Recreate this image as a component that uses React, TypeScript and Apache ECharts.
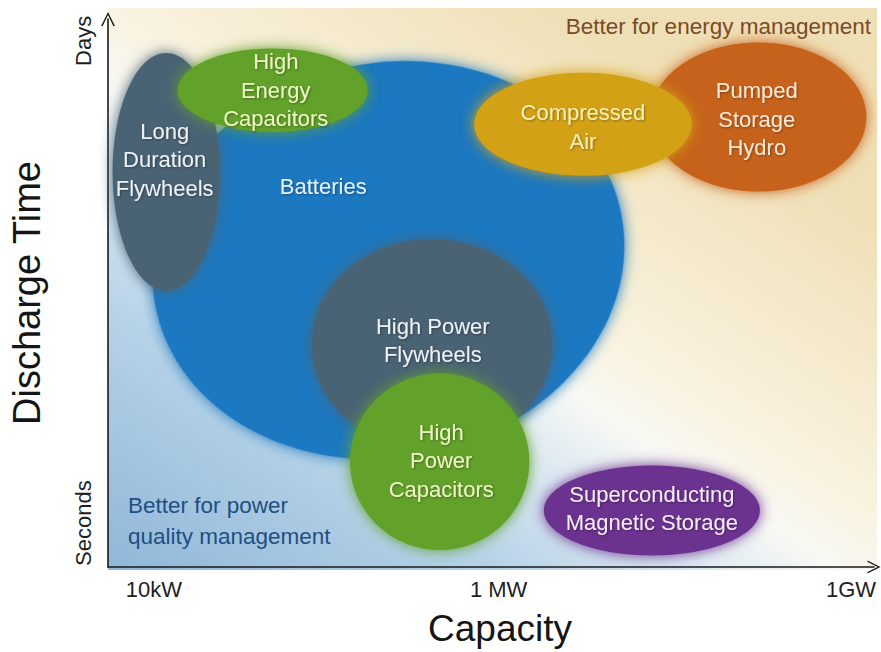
import React, { useEffect, useRef } from 'react';
import * as echarts from 'echarts';

// Technologies, drawn in back-to-front order
const technologies = [
  'Batteries',
  'Long Duration Flywheels',
  'High Energy Capacitors',
  'High Power Flywheels',
  'High Power Capacitors',
  'Pumped Storage Hydro',
  'Compressed Air',
  'Superconducting Magnetic Storage',
];
const labelTexts = [
  'Batteries',
  'Long\nDuration\nFlywheels',
  'High\nEnergy\nCapacitors',
  'High Power\nFlywheels',
  'High\nPower\nCapacitors',
  'Pumped\nStorage\nHydro',
  'Compressed\nAir',
  'Superconducting\nMagnetic Storage',
];
// Capacity index (0..100) and discharge-time index (0..100) of each region
const capacityCenter = [36.6, 7.6, 21.5, 42.3, 43.3, 84.9, 62.0, 71.0];
const dischargeCenter = [56.0, 72.1, 87.0, 40.6, 19.2, 82.1, 80.8, 10.3];
const capacitySpread = [31.0, 7.0, 12.4, 15.7, 11.7, 14.1, 14.2, 14.1];
const dischargeSpread = [36.0, 21.7, 7.6, 19.2, 16.1, 13.6, 9.4, 8.2];
const labelCapacity = [28.1, 7.4, 21.9, 42.4, 43.5, 84.7, 62.0, 71.0];
const labelDischarge = [69.4, 74.3, 87.0, 41.3, 19.4, 81.7, 80.3, 10.7];

const xTickValues = [6, 51, 97];
const xTickLabels = ['10kW', '1 MW', '1GW'];
const yTickValues = [8, 96];
const yTickLabels = ['Seconds', 'Days'];

const fillColors = ['#1b78c0', '#4a6374', '#62a12c', '#4a6374', '#62a12c', '#c6621f', '#d3a112', '#6c3290'];
const textColors = ['#e4f1fa', '#eef2f5', '#eef6c4', '#eef2f5', '#eef6c4', '#fde9d4', '#fbf0b4', '#f4ecf6'];
const tilt = [0.2, 0, 0, 0, 0, 0, 0, 0];

const FONT = 'Liberation Sans, Arial, sans-serif';
const CHEVRON = 'path://M0,10 L5,0 L10,10 L8.8,10 L5,2.2 L1.2,10 Z';

export default function App() {
  const ref = useRef<HTMLDivElement>(null);
  useEffect(() => {
    if (!ref.current) return;
    const chart = echarts.init(ref.current, undefined, { renderer: 'svg' });
    const regionData = technologies.map((name, i) => ({
      name,
      value: [capacityCenter[i], dischargeCenter[i], capacitySpread[i], dischargeSpread[i]],
    }));
    const labelData = technologies.map((name, i) => ({
      name,
      value: [labelCapacity[i], labelDischarge[i]],
    }));
    const xLabelMap: Record<number, string> = {};
    xTickValues.forEach((v, i) => (xLabelMap[v] = xTickLabels[i]));
    const yLabelMap: Record<number, string> = {};
    yTickValues.forEach((v, i) => (yLabelMap[v] = yTickLabels[i]));

    chart.setOption({
      animation: false,
      backgroundColor: '#ffffff',
      grid: { left: 108, right: 7, top: 19, bottom: 82 },
      graphic: [
        {
          type: 'rect',
          z: -1,
          silent: true,
          shape: { x: 108, y: 8, width: 769, height: 562 },
          style: {
            fill: new echarts.graphic.LinearGradient(108, 570, 108 + 0.55 * 720, 570 - 0.83 * 720, [
              { offset: 0, color: '#8fb7d8' },
              { offset: 0.3, color: '#b6d2e7' },
              { offset: 0.45, color: '#dae8f1' },
              { offset: 0.56, color: '#f7f8f4' },
              { offset: 0.66, color: '#f9f2df' },
              { offset: 1, color: '#efdfb6' },
            ], true),
          },
        },
        {
          type: 'text',
          z: 100,
          x: 871,
          y: 26,
          style: {
            text: 'Better for energy management',
            fill: '#7a4b25',
            font: `22.5px ${FONT}`,
            align: 'right',
            verticalAlign: 'middle',
          },
        },
        {
          type: 'text',
          z: 100,
          x: 128,
          y: 521,
          style: {
            text: 'Better for power\nquality management',
            fill: '#1f4f82',
            font: `22.5px ${FONT}`,
            lineHeight: 31,
            align: 'left',
            verticalAlign: 'middle',
          },
        },
      ],
      xAxis: {
        type: 'value',
        min: 0,
        max: 100,
        interval: 1,
        name: 'Capacity',
        nameLocation: 'middle',
        nameGap: 43,
        nameTextStyle: { fontSize: 37, fontFamily: FONT, color: '#151515', padding: [0, 0, 0, 18] },
        splitLine: { show: false },
        axisTick: { show: false },
        axisLine: {
          show: true,
          symbol: ['none', CHEVRON],
          symbolSize: [17, 13],
          lineStyle: { color: '#1a1a1a', width: 1.6 },
        },
        axisLabel: {
          margin: 11,
          fontSize: 22,
          fontFamily: FONT,
          color: '#1e1e1e',
          formatter: (v: number) => xLabelMap[Math.round(v)] ?? '',
        },
      },
      yAxis: {
        type: 'value',
        min: 0,
        max: 100,
        interval: 1,
        name: 'Discharge Time',
        nameLocation: 'middle',
        nameRotate: 90,
        nameGap: 62,
        nameTextStyle: { fontSize: 38, fontFamily: FONT, color: '#151515' },
        splitLine: { show: false },
        axisTick: { show: false },
        axisLine: {
          show: true,
          symbol: ['none', CHEVRON],
          symbolSize: [17, 14],
          lineStyle: { color: '#1a1a1a', width: 1.6 },
        },
        axisLabel: {
          rotate: 90,
          margin: 14,
          fontSize: 22,
          fontFamily: FONT,
          color: '#1e1e1e',
          formatter: (v: number) => yLabelMap[Math.round(v)] ?? '',
        },
      },
      series: [
        {
          type: 'custom',
          name: 'regions',
          data: regionData,
          silent: true,
          renderItem: (params: any, api: any) => {
            const i = params.dataIndex;
            const c = api.coord([api.value(0), api.value(1)]);
            const s = api.size([api.value(2), api.value(3)]);
            return {
              type: 'ellipse',
              x: c[0],
              y: c[1],
              rotation: tilt[i],
              shape: { cx: 0, cy: 0, rx: s[0], ry: s[1] },
              style: { fill: fillColors[i], shadowBlur: 14, shadowColor: fillColors[i] },
            };
          },
        },
        {
          type: 'custom',
          name: 'labels',
          data: labelData,
          silent: true,
          z: 10,
          renderItem: (params: any, api: any) => {
            const i = params.dataIndex;
            const p = api.coord([api.value(0), api.value(1)]);
            return {
              type: 'text',
              x: p[0],
              y: p[1],
              style: {
                text: labelTexts[i],
                fill: textColors[i],
                font: `22px ${FONT}`,
                lineHeight: 28.5,
                align: 'center',
                verticalAlign: 'middle',
                textShadowColor: 'rgba(0,0,0,0.35)',
                textShadowBlur: 2,
                textShadowOffsetX: 1,
                textShadowOffsetY: 1,
              },
            };
          },
        },
      ],
    });
    return () => chart.dispose();
  }, []);
  return <div ref={ref} style={{ position: 'fixed', left: 0, top: 0, width: 881, height: 652 }} />;
}
